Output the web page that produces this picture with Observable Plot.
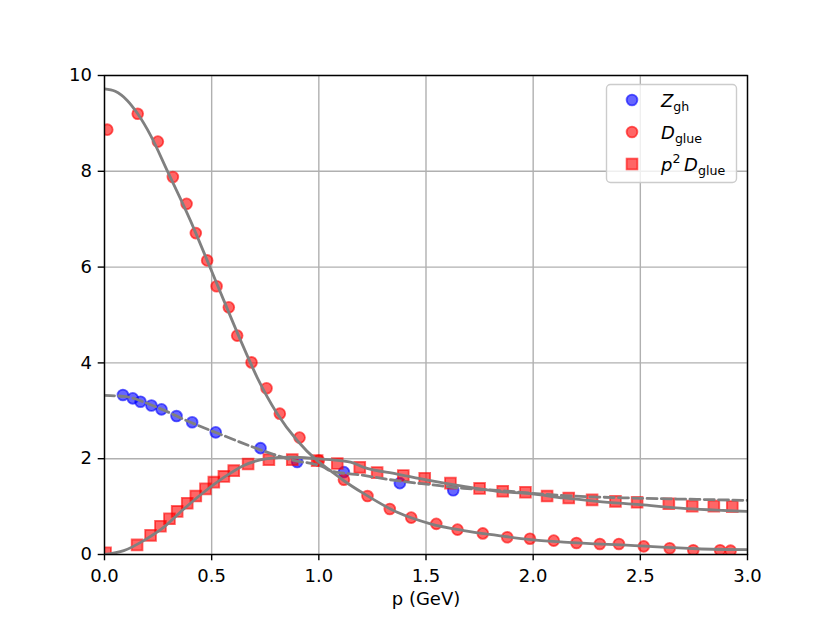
<!DOCTYPE html>
<html><head><meta charset="utf-8">
<script src="https://cdn.jsdelivr.net/npm/d3@7"></script>
<script src="https://cdn.jsdelivr.net/npm/@observablehq/plot@0.6"></script>
<style>
body{margin:0;background:#fff;}
#wrap{position:relative;width:830px;height:623px;font-family:"DejaVu Sans";}
#legend{position:absolute;left:0;top:0;pointer-events:none;}
</style>
</head><body>
<div id="wrap"></div>
<script>
// ---- data ----
const zghP = [0.086,0.132,0.168,0.219,0.266,0.336,0.409,0.519,0.728,0.899,1.117,1.378,1.627];
const zghV = [3.33,3.26,3.19,3.11,3.03,2.89,2.76,2.55,2.22,1.93,1.72,1.49,1.34];

const dglueP = [0.013,0.155,0.249,0.319,0.383,0.426,0.479,0.523,0.580,0.619,0.686,0.756,0.818,0.910,1.0,1.117,1.227,1.331,1.431,1.548,1.647,1.765,1.879,1.985,2.096,2.202,2.311,2.40,2.516,2.637,2.747,2.872,2.921];
const dglueV = [8.87,9.20,8.62,7.88,7.32,6.71,6.14,5.60,5.16,4.57,4.01,3.47,2.94,2.44,1.96,1.56,1.22,0.95,0.77,0.64,0.52,0.44,0.36,0.33,0.29,0.24,0.22,0.22,0.17,0.13,0.09,0.09,0.08];

const p2dP = [0.005,0.152,0.215,0.261,0.303,0.339,0.386,0.426,0.471,0.51,0.557,0.603,0.670,0.767,0.876,0.992,1.086,1.191,1.272,1.394,1.494,1.614,1.75,1.858,1.964,2.065,2.166,2.275,2.384,2.485,2.633,2.742,2.843,2.929];
const p2dV = [0.035,0.20,0.40,0.59,0.745,0.90,1.07,1.22,1.37,1.51,1.63,1.75,1.89,1.98,1.98,1.96,1.90,1.82,1.71,1.65,1.59,1.49,1.38,1.32,1.30,1.22,1.18,1.14,1.11,1.09,1.06,1.01,1.01,1.00];

// fitted curves
const fitDP = [0,0.05,0.106,0.155,0.215,0.292,0.401,0.479,0.557,0.635,0.712,0.806,0.899,0.992,1.054,1.117,1.21,1.366,1.521,1.676,1.832,1.988,2.143,2.454,2.765,3.0];
const fitDV = [9.72,9.67,9.48,9.20,8.75,8.02,6.97,6.14,5.30,4.47,3.70,2.94,2.38,1.96,1.75,1.54,1.27,0.88,0.64,0.50,0.40,0.31,0.26,0.19,0.12,0.10];

const fitP2P = [0,0.09,0.183,0.277,0.37,0.463,0.557,0.65,0.759,0.868,0.992,1.054,1.148,1.21,1.366,1.521,1.676,1.832,1.988,2.143,2.299,2.50,2.687,3.0];
const fitP2V = [0,0.08,0.29,0.57,0.95,1.30,1.61,1.86,2.00,2.03,2.00,1.98,1.93,1.82,1.68,1.54,1.42,1.32,1.27,1.18,1.11,1.04,0.97,0.90];

const fitZP = [0,0.09,0.246,0.401,0.557,0.712,0.868,1.023,1.054,1.21,1.366,1.521,1.676,1.832,1.988,2.143,2.454,2.765,3.0];
const fitZV = [3.32,3.30,3.07,2.76,2.48,2.21,1.98,1.82,1.75,1.65,1.54,1.46,1.38,1.34,1.28,1.23,1.18,1.15,1.13];

const xTicks = [0,0.5,1.0,1.5,2.0,2.5,3.0];
const yTicks = [0,2,4,6,8,10];
const xLabel = "p (GeV)";

const zip = (xs, ys) => xs.map((x,i)=>({x, y: ys[i]}));
const zgh = zip(zghP, zghV), dglue = zip(dglueP, dglueV), p2d = zip(p2dP, p2dV);
const fitD = zip(fitDP, fitDV), fitP2 = zip(fitP2P, fitP2V), fitZ = zip(fitZP, fitZV);

const gray = "#808080";
const chart = Plot.plot({
  width: 830, height: 623,
  marginLeft: 104, marginRight: 83, marginTop: 75, marginBottom: 69,
  style: {fontFamily: "DejaVu Sans", fontSize: "18px", background: "white", color: "black"},
  x: {domain: [0,3]},
  y: {domain: [0,10]},
  marks: [
    Plot.gridX(xTicks, {stroke: "#b0b0b0", strokeOpacity: 1, strokeWidth: 1.4}),
    Plot.gridY(yTicks, {stroke: "#b0b0b0", strokeOpacity: 1, strokeWidth: 1.4}),
    Plot.dot(zgh, {x: "x", y: "y", r: 5.4, fill: "blue", stroke: "blue", fillOpacity: 0.6, strokeOpacity: 0.6, strokeWidth: 1.8, clip: true}),
    Plot.dot(dglue, {x: "x", y: "y", r: 5.4, fill: "red", stroke: "red", fillOpacity: 0.6, strokeOpacity: 0.6, strokeWidth: 1.8, clip: true}),
    Plot.dot(p2d, {x: "x", y: "y", r: 6.1, symbol: "square", fill: "red", stroke: "red", fillOpacity: 0.6, strokeOpacity: 0.6, strokeWidth: 1.8, clip: true}),
    Plot.line(fitD, {x: "x", y: "y", stroke: gray, strokeWidth: 2.8, curve: "monotone-x", clip: true}),
    Plot.line(fitP2, {x: "x", y: "y", stroke: gray, strokeWidth: 2.8, curve: "monotone-x", clip: true}),
    Plot.line(fitZ, {x: "x", y: "y", stroke: gray, strokeWidth: 2.8, strokeDasharray: "10,4.3", curve: "monotone-x", clip: true}),
    Plot.axisX(xTicks, {tickFormat: d3.format(".1f"), tickSize: 6.3, tickPadding: 8, strokeWidth: 1.4, label: null, fontSize: 18}),
    Plot.axisY(yTicks, {tickFormat: d3.format("d"), tickSize: 6.3, tickPadding: 6.3, strokeWidth: 1.4, label: null, fontSize: 18}),
    Plot.text([xLabel], {text: d => d, frameAnchor: "bottom", dy: 50, fontSize: 18}),
    Plot.frame({stroke: "black", strokeWidth: 1.4})
  ]
});
const wrap = document.getElementById("wrap");
wrap.appendChild(chart);

// ---- legend overlay ----
const legendItems = [
  {color: "blue", symbol: "circle", parts: [["Z","i",0],["gh","s",1]]},
  {color: "red", symbol: "circle", parts: [["D","i",0],["glue","s",1]]},
  {color: "red", symbol: "square", parts: [["p","i",0],["2","s",-1],["\u2009D","i",0],["glue","s",1]]}
];
const lg = d3.select(wrap).append("svg").attr("id","legend").attr("width",830).attr("height",623)
  .style("font-family","DejaVu Sans");
lg.append("rect").attr("x",606.5).attr("y",84.5).attr("width",130).attr("height",98)
  .attr("rx",4).attr("fill","white").attr("fill-opacity",0.8).attr("stroke","#cccccc").attr("stroke-width",1.4);
legendItems.forEach((it,i)=>{
  const cy = 100 + i*32;
  if (it.symbol === "circle") {
    lg.append("circle").attr("cx",632).attr("cy",cy).attr("r",5.4)
      .attr("fill",it.color).attr("fill-opacity",0.6).attr("stroke",it.color).attr("stroke-opacity",0.6).attr("stroke-width",1.8);
  } else {
    lg.append("rect").attr("x",632-5.4).attr("y",cy-5.4).attr("width",10.8).attr("height",10.8)
      .attr("fill",it.color).attr("fill-opacity",0.6).attr("stroke",it.color).attr("stroke-opacity",0.6).attr("stroke-width",1.8);
  }
  const t = lg.append("text").attr("x",661).attr("y",cy+6.5).attr("font-size",18);
  let shift = 0;
  it.parts.forEach(([s,kind,pos])=>{
    const target = pos===1 ? 4 : pos===-1 ? -7.5 : 0;
    const ts = t.append("tspan").text(s).attr("dy", target - shift);
    shift = target;
    if (kind === "i") ts.attr("font-style","italic");
    if (kind === "s") ts.attr("font-size",12.6);
  });
});
</script>
</body></html>
